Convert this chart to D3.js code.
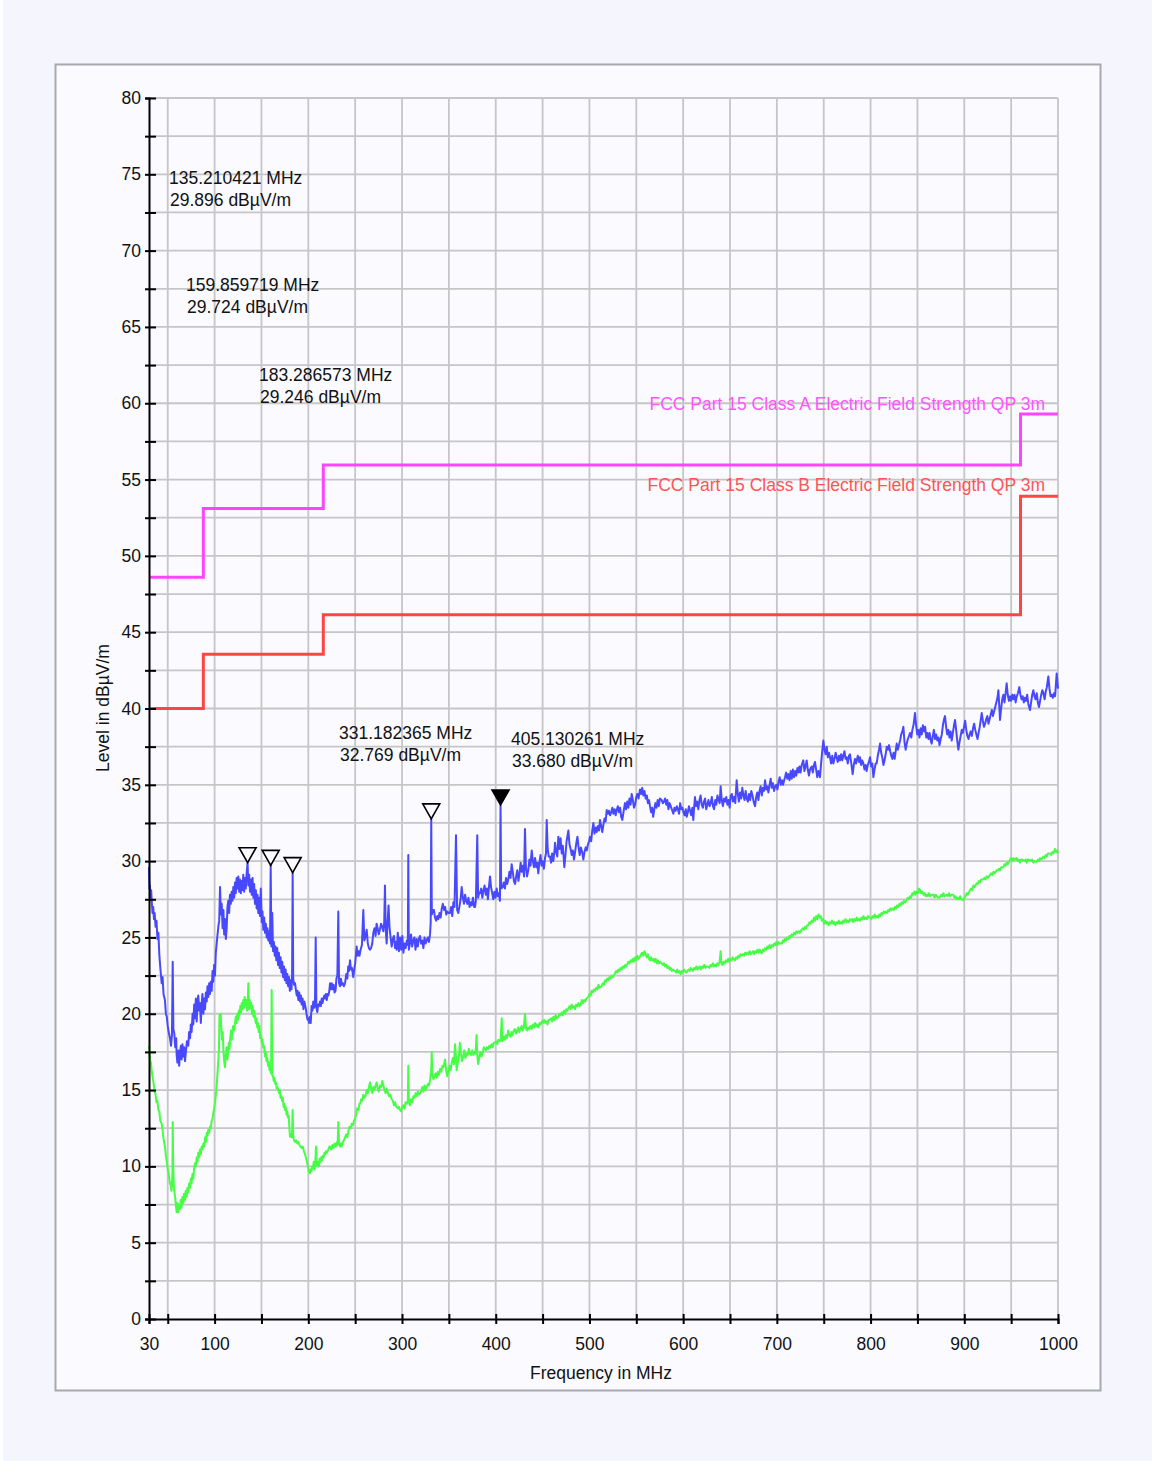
<!DOCTYPE html>
<html><head><meta charset="utf-8">
<script src="https://cdn.jsdelivr.net/npm/d3@7"></script>
<style>
html,body{margin:0;padding:0;background:#f4f5fd;}
svg{display:block;font-family:"Liberation Sans",Arial,sans-serif;}
</style></head>
<body>
<svg id="chart" width="1152" height="1461"></svg>
<script>
// ---------------- DATA ----------------
const xTicks = [30,50,100,150,200,250,300,350,400,450,500,550,600,650,700,750,800,850,900,950,1000];
const xTickLabels = [30,100,200,300,400,500,600,700,800,900,1000];
const yTicks = [0,2.5,5,7.5,10,12.5,15,17.5,20,22.5,25,27.5,30,32.5,35,37.5,40,42.5,45,47.5,50,52.5,55,57.5,60,62.5,65,67.5,70,72.5,75,77.5,80];
const yTickLabels = [0,5,10,15,20,25,30,35,40,45,50,55,60,65,70,75,80];

const classAFreq  = [30, 88, 88, 216, 216, 960, 960, 1000];
const classALevel = [48.6, 48.6, 53.1, 53.1, 55.95, 55.95, 59.3, 59.3];
const classBFreq  = [30, 88, 88, 216, 216, 960, 960, 1000];
const classBLevel = [40.0, 40.0, 43.55, 43.55, 46.15, 46.15, 53.9, 53.9];
const limitNames = ["FCC Part 15 Class A Electric Field Strength QP 3m","FCC Part 15 Class B Electric Field Strength QP 3m"];

const markerFreq  = [135.210421,159.859719,183.286573,331.182365,405.130261];
const markerLevel = [29.896,29.724,29.246,32.769,33.680];
const markerFilled= [false,false,false,false,true];

// peak trace (blue) [MHz, dBµV/m]
const peakTrace = [[30,29.6],[30.5,28.2],[31,28.4],[31.6,27.6],[32.3,28.1],[33,27.3],[33.7,26.6],[34.5,27.0],[35.3,26.2],[36,26.6],[37,25.7],[38,26.1],[39,24.9],[40,25.3],[41,23.9],[41.7,23.3],[42.5,22.7],[43.5,22.0],[44.5,22.4],[45.5,21.3],[47,20.9],[48,20.0],[49,19.8],[50,19.2],[51,18.8],[52.4,18.4],[53.5,17.9],[54.5,18.6],[55.3,23.4],[56,19.0],[57,18.7],[58,17.8],[59,18.4],[59.5,17.3],[60.3,16.8],[61.3,17.6],[62.2,16.6],[63,17.4],[64,17.9],[64.8,17.0],[65.7,18.0],[66.6,17.2],[67.5,17.8],[68.4,16.9],[69.5,17.6],[70.5,18.2],[71.9,17.9],[72.8,18.8],[73.8,18.4],[74.6,19.3],[75.5,18.8],[76.5,20.0],[77.3,19.3],[78.2,20.6],[79.1,19.7],[80,21.0],[80.9,19.5],[81.8,20.8],[82.6,21.2],[83.5,20.2],[84.4,20.7],[85.3,19.4],[86.2,20.6],[87,21.3],[88,20.0],[89,21.0],[89.8,20.3],[90.7,21.4],[91.6,20.8],[92.4,21.8],[93.3,21.1],[94.2,22.0],[95.1,21.3],[96,22.1],[96.9,21.5],[97.8,22.8],[98.6,22.1],[99.5,23.2],[100.4,22.5],[101.3,24.0],[102.2,24.6],[103,25.1],[104,25.7],[104.9,26.1],[105.8,28.3],[106.7,26.5],[107.6,27.2],[108.5,25.6],[109.4,26.8],[110.2,25.2],[111.1,26.2],[112,24.9],[112.9,25.6],[113.7,27.0],[114.6,27.4],[115.5,26.6],[116.4,27.8],[117.3,27.2],[118.2,28.0],[119,27.4],[120,28.3],[120.9,27.6],[121.8,28.6],[122.6,27.9],[123.5,28.9],[124.4,28.2],[125.3,29.0],[126.2,28.0],[127.1,28.8],[128,27.9],[128.9,28.7],[129.7,28.1],[130.6,29.1],[131.5,28.0],[132.4,28.9],[133.3,28.2],[134.2,29.2],[135.21,29.896],[136,28.4],[136.9,29.1],[137.8,28.0],[138.7,28.8],[139.6,27.8],[140.5,28.9],[141.4,27.6],[142.2,28.5],[143.1,27.2],[144,28.1],[144.9,26.9],[145.8,27.8],[146.6,26.6],[147.5,27.6],[148.4,26.4],[149.3,28.2],[150.3,26.0],[151.1,26.7],[152,25.5],[152.9,26.3],[153.8,25.3],[154.7,25.9],[155.6,25.0],[156.4,25.6],[157.3,24.8],[158.2,25.4],[159.1,24.6],[159.86,29.724],[160.6,24.4],[161.5,26.6],[162.4,24.1],[163.3,24.7],[164.2,23.8],[165,24.4],[165.9,23.5],[166.8,24.3],[167.7,23.2],[168.6,24.0],[169.5,23.0],[170.4,23.7],[171.3,22.7],[172.2,23.4],[173.1,22.4],[174,23.1],[174.9,22.2],[175.8,22.9],[176.7,22.0],[177.6,22.6],[178.5,21.8],[179.4,22.4],[180.3,21.5],[181.2,22.2],[182.1,21.6],[182.7,22.6],[183.29,29.246],[183.9,22.3],[184.8,21.9],[185.8,22.0],[186.7,21.6],[187.6,21.2],[188.5,21.5],[189.3,20.9],[190.3,21.4],[191.2,20.8],[192.1,21.2],[192.9,20.6],[193.9,21.0],[194.8,20.3],[195.7,20.8],[196.5,20.6],[197.4,20.3],[198.3,19.9],[199.2,19.6],[200,19.7],[200.8,19.4],[201.7,19.8],[202.6,19.4],[203.5,20.5],[204.4,20.2],[205.3,20.8],[206.2,20.4],[207.1,20.6],[207.9,25.0],[208.6,20.4],[209.6,20.1],[210.5,20.6],[211.4,20.5],[212.5,20.8],[213.4,20.5],[214.3,21.0],[215.2,20.7],[216.1,21.0],[217,21.2],[217.8,21.0],[218.8,21.3],[219.7,20.9],[220.6,21.3],[221.5,21.2],[222.4,21.5],[223.2,22.0],[224.1,21.6],[225,22.0],[226,21.6],[227,21.9],[228,21.4],[229,21.5],[230,22.3],[231,22.5],[232,26.7],[232.8,22.0],[233.8,21.8],[234.8,22.3],[235.8,21.9],[237,22.0],[238,21.8],[239.2,22.0],[240.5,22.6],[241.6,22.3],[242.6,23.1],[243.5,22.8],[244.5,23.5],[245.5,22.9],[246.5,23.0],[248,22.4],[249,22.9],[250,23.3],[251.6,24.4],[252.6,23.8],[253.6,24.1],[254.6,23.8],[255.8,24.2],[257.2,24.5],[258.7,26.8],[259.8,24.8],[260.8,25.0],[262.3,25.5],[263.5,24.6],[264.7,24.3],[265.8,24.2],[267,24.3],[268.2,24.6],[269.4,25.3],[270.6,25.6],[271.8,25.1],[272.9,25.9],[274,25.6],[275.2,25.2],[276.4,25.5],[277.6,25.9],[278.8,25.7],[280,25.4],[281,26.0],[281.8,28.4],[282.6,25.5],[283.6,24.6],[284.6,26.0],[285.6,27.1],[286.6,25.7],[287.8,25.0],[289,24.4],[290.2,24.9],[291.4,25.1],[292.6,24.3],[293.6,24.7],[294.3,24.2],[295.5,25.3],[296.7,24.1],[297.9,25.0],[299.1,24.2],[300.3,25.1],[301.5,24.0],[302.7,24.6],[303.9,24.3],[305.1,24.8],[306.2,24.5],[306.7,30.4],[307.3,24.2],[308.4,24.6],[309.6,25.2],[310.8,24.4],[312,24.8],[313.2,25.0],[314.4,24.2],[315.6,24.9],[316.8,24.4],[318,24.9],[319.2,25.1],[320.4,24.6],[321.6,24.8],[322.8,24.3],[324,25.0],[325.2,24.6],[326.3,24.8],[327.5,25.0],[328.7,24.7],[329.9,25.2],[330.6,26.0],[331.18,32.769],[331.8,26.5],[332.9,26.8],[334,26.8],[335.2,26.3],[336.4,26.1],[337.6,26.4],[338.8,26.2],[340,26.6],[341.2,26.3],[342.4,26.9],[343.6,27.2],[344.8,26.8],[346,27.0],[347.2,26.5],[348.4,26.7],[349.6,26.6],[351.2,26.6],[352.4,27.0],[353.6,26.4],[354.8,27.3],[356,27.0],[357.6,31.7],[358.8,26.8],[360,26.6],[361.2,27.0],[362.5,27.5],[363.7,28.3],[364.9,27.6],[366.1,27.2],[367.3,27.8],[368.5,27.4],[369.7,27.2],[370.9,27.6],[372.1,27.0],[373.3,27.3],[374.5,27.1],[375.7,27.6],[377,27.0],[377.9,27.0],[378.8,27.4],[380.3,31.7],[381.2,27.6],[382.2,27.9],[383.2,27.9],[384.5,28.2],[385.7,27.6],[386.9,28.1],[388.1,28.4],[389.3,27.8],[390.5,28.2],[391.7,27.5],[392.9,28.4],[393.9,29.0],[395,28.3],[396.2,27.9],[397.4,27.5],[398.6,28.0],[399.8,27.6],[401,28.2],[402.2,27.7],[403.4,27.9],[404.5,27.4],[405.13,33.68],[405.8,28.2],[407.4,28.3],[408.6,28.6],[409.8,28.2],[411,28.9],[412.2,28.5],[413.4,28.8],[414.6,29.3],[415.8,28.9],[417,29.8],[418.2,29.3],[419.4,28.7],[420.6,28.5],[421.8,29.0],[423,29.4],[424.2,28.7],[425.4,29.2],[426.6,29.9],[427.8,29.3],[429,29.7],[430.2,29.0],[431.2,32.1],[432.2,29.6],[433.4,29.0],[434.7,29.4],[435.9,30.1],[437.1,29.7],[438.4,30.7],[439.6,30.0],[440.8,29.6],[442,30.2],[443.2,29.6],[444.4,29.9],[445.4,29.2],[446.6,29.9],[447.8,30.4],[449,29.7],[450.2,30.0],[451.4,29.5],[452.6,30.2],[453.6,30.5],[454.4,32.7],[455.4,30.8],[456.6,30.3],[457.9,30.3],[459,29.9],[460.2,30.5],[461.4,30.0],[462.6,30.6],[463.3,31.2],[464.5,30.6],[465.7,30.3],[466.8,31.6],[468,30.8],[469.2,31.5],[470.4,30.5],[471.6,31.0],[473.2,29.6],[474.4,30.4],[475.6,31.3],[477.5,32.0],[478.7,31.1],[479.9,30.8],[481.1,30.4],[482.3,30.7],[483.5,30.1],[484.7,30.6],[486,31.2],[487.2,31.6],[488.4,30.9],[489.6,30.4],[490.8,30.9],[492.2,30.6],[493.5,30.1],[494.7,30.6],[496,30.9],[497.2,30.7],[498.4,31.1],[499.6,31.3],[500.6,31.6],[501.8,31.3],[503,32.0],[504.2,32.5],[505.4,31.8],[506.6,32.2],[507.8,31.9],[509,32.3],[510.2,32.0],[511.3,32.7],[512.5,32.3],[513.7,31.9],[514.9,32.4],[516.1,32.8],[517.3,32.6],[518.4,33.35],[519.6,33.1],[520.8,33.3],[522,33.0],[523.2,33.2],[524.4,33.5],[525.6,33.1],[526.8,33.4],[528,33.0],[529.1,33.35],[530.3,33.6],[531.5,33.2],[532.7,33.5],[533.9,32.9],[535.1,32.7],[536.3,33.2],[537.9,33.8],[539.1,33.4],[540.3,33.9],[541.5,33.5],[542.7,34.1],[543.9,33.7],[545.1,34.4],[546.3,34.0],[547.5,33.5],[548.7,33.7],[550,34.2],[551.2,34.4],[552.4,34.1],[553.9,34.7],[555.1,34.4],[556.3,34.8],[557.5,34.3],[558.7,34.6],[560,34.1],[561.2,34.3],[562.4,33.8],[563.6,34.0],[564.6,33.6],[565.8,33.2],[566.9,33.5],[568,32.9],[569.2,33.4],[570.4,33.8],[571.6,33.5],[572.8,34.0],[574,33.6],[575.2,34.1],[577.1,34.0],[578.3,33.8],[579.5,33.9],[580.7,34.1],[581.9,33.7],[583.1,34.0],[584.3,33.4],[585.5,33.8],[586.7,33.6],[587.9,33.4],[589.5,33.1],[590.7,33.5],[592,33.3],[593.2,33.6],[594.4,33.4],[595.6,33.1],[596.8,33.8],[598,33.4],[599.2,33.5],[600.4,33.2],[601.6,33.0],[602.8,33.4],[603.8,32.9],[605,33.2],[606.2,33.6],[607.4,33.3],[608.6,33.0],[609.8,33.5],[610.8,32.7],[611.7,33.5],[612.6,34.2],[613.8,33.6],[615,33.9],[616.2,33.4],[617.4,34.0],[618.6,34.3],[619.8,33.7],[621,33.5],[622.2,33.9],[623.4,34.1],[624.6,33.4],[625.8,33.7],[627,34.0],[628.2,33.6],[629.4,33.8],[630.6,34.2],[631.8,33.6],[633,33.4],[634.2,34.0],[635.4,33.7],[636.6,34.3],[637.8,34.0],[639,33.8],[640,34.9],[641.2,34.0],[642.4,33.6],[643.6,34.1],[644.8,33.9],[646,34.2],[647.2,33.7],[648.4,34.0],[649.6,33.5],[650.8,34.3],[652,34.4],[653.2,33.9],[654.4,34.2],[655.6,33.8],[657.1,35.3],[658.3,34.4],[659.5,33.9],[660.7,34.5],[661.9,34.1],[663.1,34.8],[664.3,34.3],[665.5,34.0],[666.7,34.6],[667.9,34.1],[669.1,33.9],[670.3,34.4],[671.5,34.0],[672.7,34.6],[674,34.3],[675.2,33.9],[676.7,33.6],[677.9,34.2],[679.1,34.5],[680.3,34.0],[681.5,34.6],[682.7,34.9],[683.9,34.3],[685.1,34.8],[686.3,34.6],[687.4,35.3],[688.6,34.7],[689.8,34.9],[691,34.5],[692.2,35.0],[693.4,35.4],[694.6,34.8],[695.8,35.1],[697,34.6],[698.2,34.9],[699.4,35.0],[700.6,34.7],[701.8,35.2],[703,35.5],[704.2,35.0],[705.4,35.3],[706.6,35.0],[707.8,35.3],[708.7,35.5],[709.9,35.8],[711.1,35.4],[712.3,35.7],[713.5,35.3],[714.7,35.9],[715.9,35.4],[717.1,36.0],[718.3,35.5],[719.5,35.9],[720.7,35.6],[721.9,36.1],[723.1,35.8],[724.1,36.2],[725.3,35.8],[726.5,36.3],[728.2,36.6],[729.4,35.9],[730.6,36.2],[731.8,36.6],[733,36.0],[734.2,35.6],[735.4,36.0],[737.2,36.2],[738.4,35.8],[739.6,36.3],[740.7,36.5],[741.9,36.0],[743.1,35.5],[744.3,35.9],[746,35.5],[747.2,36.4],[748.4,37.2],[749.6,37.9],[750.8,37.3],[752,37.0],[753.2,37.5],[754.4,36.8],[755.6,37.1],[756.7,36.8],[757.9,36.4],[759.1,36.9],[760.3,36.4],[761.5,36.7],[762.7,37.1],[763.8,36.8],[765,36.5],[766.2,36.9],[767.4,36.6],[768.6,37.0],[769.8,36.6],[770.9,36.9],[772.1,37.2],[773.3,36.7],[774.5,36.8],[775.7,36.4],[776.9,36.9],[778,37.0],[779.2,36.5],[780.9,35.7],[782.1,36.3],[783.3,36.7],[784.5,36.4],[785.2,36.6],[786.4,36.9],[787.6,36.5],[788.7,36.8],[789.9,36.3],[791.1,36.6],[792.3,36.4],[793.5,36.0],[794.7,36.3],[795.8,35.9],[797,36.3],[798.2,36.5],[799.4,36.8],[800.6,36.2],[801.8,36.4],[803,35.5],[804.2,36.0],[805.4,36.4],[806.5,36.4],[807.7,36.9],[809,37.3],[810.1,37.7],[811.3,37.1],[812.5,36.8],[813.7,36.3],[814.9,36.6],[816.1,37.0],[817.3,37.5],[818.5,37.3],[819.7,37.6],[820.9,37.2],[822.1,36.9],[823.3,36.7],[824.5,37.1],[825.7,36.7],[827.9,37.7],[829.1,37.3],[830.3,37.6],[831.5,37.9],[832.7,38.3],[833.9,38.5],[835,38.8],[836.2,37.8],[837.4,37.3],[838.6,37.7],[839.8,38.0],[841,38.2],[842.2,38.4],[843.4,38.1],[844.6,38.6],[845.8,38.9],[847.4,39.7],[848.6,38.9],[849.8,38.3],[851,38.6],[852.2,38.1],[853.4,38.7],[854.6,38.3],[855.8,38.9],[857,38.5],[858.2,38.8],[859.4,38.1],[860.6,38.4],[861.8,38.0],[863,38.4],[864.2,37.9],[865.2,37.7],[866.4,38.2],[867.6,38.6],[868.8,38.0],[870,38.3],[871.2,37.9],[872.4,38.1],[873.6,37.6],[874.8,38.0],[876,38.3],[877.2,38.9],[878.4,39.3],[879.4,39.5],[880.6,38.8],[881.8,38.3],[883,38.6],[884.2,38.1],[885.4,38.5],[886.6,37.9],[887.8,38.4],[889,38.9],[890.1,39.25],[891.3,38.6],[892.5,37.9],[893.7,37.3],[894.9,37.8],[896.1,38.2],[897.3,38.6],[898.5,38.4],[899.7,38.8],[900.9,39.2],[902.1,38.6],[903.3,38.2],[904.5,38.0],[905.7,38.3],[906.9,38.5],[908.1,38.2],[909.3,38.7],[910.5,39.0],[911.7,38.6],[912.9,38.3],[914.1,38.0],[915.3,38.4],[916.5,38.8],[918.6,39.7],[919.8,39.2],[921,38.8],[922.2,39.0],[923.4,39.3],[924.6,39.5],[925.8,39.0],[927,39.3],[928.2,39.6],[929.4,39.9],[930.6,39.5],[931.8,39.8],[933,40.1],[934.2,40.4],[935.4,40.7],[936.4,41.2],[937.3,40.2],[938.1,39.25],[939.3,40.0],[940.5,40.6],[941.7,40.9],[942.9,40.4],[944.1,41.0],[945.2,41.65],[946.4,40.9],[947.6,40.5],[948.8,40.8],[950,40.5],[951.2,40.9],[952.4,40.6],[953.6,40.9],[954.8,40.4],[956,40.8],[957.2,41.0],[958.7,41.4],[959.9,40.9],[961.1,40.6],[962.3,40.8],[963.5,40.4],[964.7,40.7],[965.9,40.5],[967.1,40.9],[968.3,40.3],[970.1,39.9],[971.3,40.4],[972.5,40.9],[973.7,41.2],[974.9,40.8],[976.1,40.6],[977.3,41.0],[978.5,40.4],[979.7,40.1],[980.9,40.5],[982.1,40.9],[983.3,41.2],[984.5,41.0],[985.7,40.6],[986.9,41.1],[988.1,41.4],[989.7,42.1],[990.9,41.3],[992.1,40.8],[993.3,40.9],[994.5,40.7],[995.7,41.0],[996.9,40.8],[998.6,42.3],[1000,41.3]];

// average trace (green) [MHz, dBµV/m]
const avgTrace = [[30,17.9],[30.5,17.5],[31,17.0],[32,16.8],[33,16.2],[34,15.8],[35,15.4],[36,14.9],[37,14.7],[38,14.2],[39,14.3],[40,13.7],[41,13.6],[42,13.0],[43.5,12.8],[44.5,12.4],[45.5,11.8],[47,11.3],[48,10.7],[49,10.3],[50,9.8],[51,9.5],[52,9.0],[53,8.8],[54,8.4],[55,9.5],[55.3,12.9],[55.8,10.2],[56.5,8.6],[57,8.4],[58,7.9],[58.8,7.4],[59.5,7.0],[60.3,7.6],[61.2,7.0],[62,7.5],[63,7.2],[63.8,7.8],[64.7,7.3],[65.6,8.0],[66.6,7.6],[67.4,8.2],[68.3,7.8],[69.2,8.4],[70.2,8.0],[71,8.6],[72,8.3],[72.9,8.9],[73.8,8.6],[74.7,9.2],[75.5,8.9],[76.4,9.5],[77.3,9.2],[78.2,9.9],[79.1,10.2],[80,10.0],[80.9,10.6],[81.8,10.3],[82.6,10.9],[83.5,10.6],[84.4,11.1],[85.3,10.8],[86.2,11.3],[87,11.1],[88,11.5],[89,11.3],[89.8,11.9],[90.7,11.6],[91.6,12.2],[92.4,12.0],[93.3,12.4],[94.2,12.2],[95.1,12.6],[96,12.5],[96.9,13.0],[97.8,13.1],[98.6,13.5],[99.5,13.8],[100.4,14.2],[101.2,14.6],[102.1,15.2],[103.3,16.3],[104,17.0],[104.7,17.8],[105.2,19.9],[105.8,19.2],[106.5,20.0],[107.2,19.0],[107.8,18.3],[108.6,18.8],[109.4,17.6],[110.2,16.9],[111.1,16.5],[111.9,17.3],[112.7,17.8],[113.5,17.0],[114.3,17.4],[115.1,18.1],[115.9,17.7],[116.7,18.4],[117.5,18.9],[118.3,18.3],[119.1,18.9],[119.9,19.2],[120.7,18.9],[121.8,19.4],[122.6,19.8],[123.4,19.4],[124.2,20.0],[125,19.6],[125.8,20.2],[126.6,19.9],[127.4,20.5],[128.2,20.1],[129,20.7],[129.8,20.3],[130.6,20.9],[131.4,20.4],[132.2,21.1],[133,20.6],[133.8,20.9],[134.6,20.2],[135.4,20.8],[136,22.0],[136.6,20.3],[137.4,20.9],[138.2,20.4],[139,20.7],[139.8,20.0],[140.6,20.5],[141.4,19.8],[142.2,20.2],[143.1,19.8],[143.9,19.4],[144.7,19.7],[145.5,19.1],[146.3,19.4],[147.1,18.8],[147.9,19.2],[148.7,18.4],[149.5,18.6],[150.3,18.1],[151.1,18.3],[151.9,17.8],[152.7,17.9],[153.8,17.2],[154.6,17.5],[155.4,16.9],[156.2,17.1],[157,16.6],[157.8,16.8],[158.6,16.3],[159.4,16.5],[160.2,16.1],[160.9,21.55],[161.5,16.0],[162.3,15.9],[163.1,15.6],[163.9,15.8],[164.7,15.4],[165.5,15.5],[166.3,15.1],[167.1,15.2],[168,15.0],[168.8,14.8],[169.6,15.0],[170.4,14.5],[171.2,14.6],[172,14.3],[172.8,14.5],[173.6,13.9],[174.4,14.1],[175.1,13.7],[175.9,13.9],[176.7,13.4],[177.5,13.6],[178.3,13.2],[179.1,13.3],[179.9,12.4],[180.5,11.95],[181.3,12.1],[182.1,11.9],[182.7,12.3],[183.3,13.7],[183.9,12.0],[184.6,11.7],[185.8,11.6],[187,11.7],[188.2,11.5],[189.3,11.6],[190.5,11.4],[191.7,11.3],[192.9,11.2],[194.1,11.3],[195.3,11.0],[196.5,10.8],[197.4,10.6],[198.2,10.4],[199.2,10.1],[200.2,9.8],[201,9.6],[201.8,9.55],[202.6,9.8],[203.4,9.7],[204.2,10.0],[205,9.9],[205.8,10.3],[206.6,9.8],[207.4,10.1],[208.2,11.3],[208.8,10.2],[209.6,10.0],[210.5,10.3],[211.3,10.0],[212.1,10.5],[213,10.3],[213.8,10.6],[214.6,10.4],[215.5,10.7],[216.4,10.6],[217.3,10.9],[218.1,10.8],[219,11.0],[219.9,10.9],[221.3,11.1],[222.5,11.3],[223.2,11.3],[224.5,11.1],[225.7,11.4],[226.9,11.2],[228.1,11.5],[229.3,11.3],[230.5,11.6],[231.3,11.4],[232,12.9],[232.7,11.6],[233.8,11.3],[235,11.5],[235.6,11.3],[236.8,11.6],[238,11.7],[239.2,11.9],[240.4,12.1],[241.6,11.9],[242.8,12.3],[244,12.6],[245.2,12.5],[246.4,12.8],[247.6,12.7],[248.8,13.0],[249.8,13.1],[251,13.4],[252.2,13.8],[253.4,13.7],[254.6,14.1],[255.2,14.1],[256.4,14.4],[257.6,14.3],[258.7,14.7],[259.9,14.5],[261.1,14.6],[262.3,15.0],[263.5,14.8],[264.7,15.2],[265.8,15.5],[267,15.1],[268.2,14.8],[269.4,15.2],[270.6,15.0],[271.8,15.3],[272.9,15.5],[274.1,15.1],[275.3,14.9],[276.5,15.3],[277.7,15.2],[278.9,15.6],[280.1,15.3],[281.3,15.0],[282.5,14.8],[283.7,15.1],[284.9,14.8],[286.1,14.6],[287.3,14.7],[289,14.4],[290.2,14.3],[291.4,14.0],[292.6,14.2],[293.8,13.9],[294.3,13.9],[295.5,13.8],[296.7,13.9],[297.8,13.7],[299,13.6],[300.2,13.9],[301.4,14.0],[302.6,13.8],[303.8,14.2],[305,14.1],[306.2,14.3],[306.7,16.6],[307.3,14.2],[308.5,14.0],[309.7,14.4],[310.9,14.2],[312.1,14.6],[313.3,14.5],[314.5,14.8],[315.7,14.6],[316.9,14.9],[318.1,14.7],[319.2,14.8],[320.4,14.9],[321.6,15.2],[322.8,14.9],[324,15.3],[325.2,15.0],[326.4,15.2],[327.6,15.4],[328.8,15.3],[330,15.7],[331.2,16.4],[331.7,17.5],[332.3,16.0],[333.5,15.7],[334.7,15.9],[335.9,16.1],[337.1,15.8],[338.3,16.2],[339.5,16.0],[340.7,16.4],[341.9,16.2],[343.1,16.6],[344.3,16.5],[345.9,17.0],[347.1,16.3],[348.3,15.9],[349.5,16.2],[350.7,16.6],[351.9,16.3],[353.1,16.8],[354.3,17.1],[355.5,16.7],[356.5,18.0],[357.7,17.1],[358.3,16.3],[359.5,16.8],[360.7,17.2],[361.7,18.1],[362.9,17.4],[364.1,16.9],[365.3,17.2],[366.5,17.6],[367.7,17.1],[368.9,17.4],[370.1,17.3],[371.3,17.7],[372.5,17.4],[373.7,17.3],[374.9,17.6],[376.1,17.3],[377.3,17.5],[378.5,17.4],[379.5,18.6],[380.4,17.2],[381.3,16.7],[382.5,17.2],[383.7,17.5],[384.9,17.2],[386.1,17.5],[387.3,17.8],[388.3,17.7],[389.5,17.6],[390.7,17.8],[391.9,17.7],[393.1,17.9],[394.3,17.8],[395.5,18.0],[396.7,17.8],[397.9,18.1],[399.2,18.1],[400.4,18.2],[401.6,18.0],[402.8,18.3],[404,18.2],[405.2,18.3],[406.4,19.7],[407.2,18.2],[408.4,18.5],[409.6,18.3],[410.8,18.6],[412,18.4],[413.2,18.9],[414.4,18.6],[415.6,18.5],[416.8,18.8],[418,18.6],[419.2,18.9],[420.4,19.0],[421.6,18.7],[422.8,18.9],[424,19.1],[425.2,18.8],[426.4,19.0],[427.6,19.2],[428.8,18.9],[430,19.1],[431.2,20.0],[432.4,19.0],[433.6,18.9],[434.8,19.1],[436,19.0],[437.2,19.2],[438.4,19.0],[439.6,19.3],[440.8,19.1],[442,19.4],[443.2,19.2],[444.4,19.3],[445.6,19.1],[446.8,19.4],[448,19.3],[449.2,19.5],[450.4,19.4],[451.6,19.6],[452.8,19.4],[454,19.5],[455.2,19.3],[456.4,19.6],[457.9,19.6],[459.1,19.7],[460.3,19.5],[461.5,19.8],[462.7,19.6],[463.9,19.9],[465.1,19.7],[466.8,19.8],[468,20.0],[469.2,19.9],[470.4,20.1],[471.6,19.9],[472.8,20.2],[474,20.0],[475.2,20.3],[476.4,20.2],[477.5,20.35],[478.7,20.5],[479.9,20.3],[481.1,20.6],[482.3,20.4],[483.5,20.5],[484.7,20.3],[485.9,20.6],[487.1,20.5],[488.3,20.7],[489.5,20.5],[490.7,20.6],[491.9,20.9],[493.1,20.7],[494.3,20.9],[495.5,20.8],[496.7,21.0],[498.8,21.1],[500,21.3],[501.2,21.2],[502.4,21.5],[503.6,21.4],[504.8,21.6],[506,21.5],[507.2,21.7],[508.4,21.6],[509.6,21.9],[510.8,21.7],[513,21.8],[514.2,22.0],[515.4,21.9],[516.6,22.2],[517.8,22.1],[519,22.3],[520.2,22.2],[521.4,22.4],[522.6,22.3],[523.8,22.5],[525,22.4],[527.3,22.65],[528.5,22.8],[529.7,22.7],[530.9,22.9],[532.1,22.8],[533.3,23.0],[534.5,22.9],[535.7,23.1],[536.9,23.0],[538.1,23.2],[539.3,23.1],[541.5,23.4],[542.7,23.3],[543.9,23.5],[545.1,23.4],[546.3,23.6],[547.5,23.4],[548.7,23.7],[549.9,23.5],[551.1,23.8],[552.3,23.6],[553.9,23.75],[555.1,23.9],[556.3,24.0],[557.5,23.8],[558.7,24.1],[559.9,23.9],[561.1,23.7],[562.3,23.9],[563.5,23.6],[564.6,23.5],[565.8,23.7],[567,23.5],[568.2,23.6],[569.4,23.4],[570.6,23.6],[571.8,23.3],[573,23.5],[574.2,23.3],[575.4,23.4],[577.1,23.3],[578.3,23.2],[579.5,23.3],[580.7,23.1],[581.9,23.2],[583.1,23.0],[584.3,23.1],[585.5,22.9],[586.7,23.0],[587.9,22.8],[589.1,22.9],[591.3,22.8],[592.5,22.7],[593.7,22.9],[594.9,22.7],[596.1,22.8],[597.3,22.6],[598.5,22.8],[599.7,22.7],[600.9,22.9],[602.1,22.8],[603.3,22.7],[604.5,22.8],[605.7,22.9],[606.9,22.8],[608.1,23.0],[609.3,22.9],[610.5,22.8],[611.7,23.0],[612.9,22.9],[614.1,23.1],[615.3,22.9],[616.5,23.0],[617.7,23.1],[618.9,22.9],[620.1,23.1],[621.3,23.0],[622.5,23.2],[623.7,23.0],[624.9,23.1],[626.9,23.1],[628.1,23.0],[629.3,23.2],[630.5,23.1],[631.7,23.3],[632.9,23.1],[634.1,23.2],[635.3,23.1],[636.5,23.3],[637.7,23.2],[638.9,23.4],[640,24.1],[640.8,23.3],[642,23.2],[643.2,23.4],[644.4,23.3],[645.6,23.5],[646.8,23.4],[648,23.6],[649.2,23.4],[650.4,23.6],[651.6,23.5],[652.8,23.7],[655.3,23.5],[656.5,23.7],[657.7,23.6],[658.9,23.8],[660.1,23.7],[661.3,23.9],[662.5,23.8],[663.7,23.9],[664.9,23.8],[666.1,24.0],[667.3,23.9],[668.5,24.0],[669.7,23.9],[670.9,24.1],[672.1,23.9],[673.3,24.0],[674.5,24.1],[675.7,23.9],[676.9,24.1],[678.1,24.0],[679.3,24.2],[680.5,24.0],[681.7,24.2],[683.8,23.95],[685,24.2],[686.2,24.1],[687.4,24.3],[688.6,24.2],[689.8,24.4],[691,24.3],[692.2,24.5],[693.4,24.3],[694.6,24.5],[695.8,24.4],[697,24.6],[698.2,24.5],[699.4,24.7],[700.6,24.5],[701.8,24.7],[703,24.6],[705.1,24.6],[706.3,24.8],[707.5,24.7],[708.7,24.9],[709.9,24.8],[711.1,25.0],[712.3,24.9],[713.5,25.1],[714.7,25.0],[715.9,25.2],[717.1,25.1],[718.3,25.3],[719.5,25.2],[720.7,25.4],[721.9,25.3],[723.1,25.4],[724.3,25.3],[726.4,25.5],[727.6,25.6],[728.8,25.5],[730,25.7],[731.2,25.6],[732.4,25.8],[733.6,25.8],[734.8,26.0],[736,25.9],[737.2,26.1],[738.4,26.0],[739.6,26.3],[740.8,26.1],[742,26.4],[743.2,26.2],[744.4,26.5],[745.6,26.3],[746.8,26.4],[748,26.1],[749.2,26.2],[750.4,25.9],[751.6,26.1],[752.8,25.9],[754,26.0],[755.2,25.8],[756.4,26.0],[757.6,25.9],[758.8,26.1],[760,25.9],[761.2,26.0],[762.4,25.8],[763.6,26.0],[764.8,25.9],[766,26.1],[767.2,25.9],[768.4,26.0],[769.6,25.9],[770.8,26.1],[772,26.0],[773.2,26.2],[774.4,26.0],[775.6,26.1],[776.8,26.0],[778,26.2],[779.2,26.1],[780.4,26.2],[781.6,26.0],[782.8,26.2],[784,26.1],[785.2,26.3],[786.4,26.1],[787.6,26.2],[788.8,26.1],[790,26.3],[791.2,26.2],[792.4,26.4],[793.6,26.2],[794.8,26.3],[796,26.2],[797.2,26.4],[798.4,26.3],[799.6,26.3],[800.8,26.2],[802,26.4],[803.2,26.3],[804.4,26.5],[805.6,26.3],[806.8,26.4],[808,26.3],[809.2,26.5],[810.4,26.4],[811.6,26.6],[812.8,26.5],[814,26.7],[815.2,26.6],[816.4,26.7],[817.6,26.6],[818.8,26.8],[820,26.7],[821.2,26.9],[822.4,26.8],[823.6,26.9],[824.8,26.8],[826,27.0],[827.2,26.9],[828.4,27.1],[829.6,27.0],[830.8,27.2],[832,27.1],[833.2,27.3],[834.4,27.2],[835.6,27.4],[836.8,27.3],[838.5,27.45],[839.7,27.6],[840.9,27.5],[842.1,27.7],[843.3,27.6],[844.5,27.9],[845.6,27.8],[846.8,28.0],[848,27.8],[849.2,28.0],[850.4,27.9],[851.6,28.2],[852.8,28.1],[854,27.9],[855.2,28.0],[856.4,27.8],[857.6,27.9],[858.8,27.7],[859.9,27.8],[861.1,27.7],[862.3,27.9],[863.5,27.7],[864.7,27.8],[867,27.8],[868.2,27.6],[869.4,27.8],[870.6,27.7],[871.8,27.6],[874.1,27.65],[875.3,27.8],[876.5,27.7],[877.7,27.9],[878.9,27.7],[881.2,27.8],[882.4,27.7],[883.6,27.9],[884.8,27.7],[886,27.8],[888.3,27.8],[889.5,27.6],[890.7,27.7],[891.9,27.5],[893.1,27.6],[894.3,27.5],[895.5,27.7],[896.7,27.5],[899,27.45],[900.2,27.6],[901.4,27.7],[902.6,27.9],[903.8,27.8],[906.1,28.1],[907.3,28.2],[908.5,28.1],[909.7,28.4],[910.9,28.3],[913.2,28.55],[914.4,28.5],[915.6,28.7],[916.8,28.6],[918,28.8],[920.3,28.8],[921.5,28.9],[922.7,28.8],[923.9,29.0],[925.1,28.9],[927.5,29.1],[928.7,29.2],[929.9,29.1],[931.1,29.3],[932.3,29.2],[934.5,29.4],[935.7,29.4],[936.9,29.5],[938.1,29.4],[939.3,29.6],[941.7,29.6],[942.9,29.8],[944.1,29.7],[945.3,29.9],[946.5,29.8],[948.8,30.1],[950,30.2],[951.2,30.0],[952.4,30.2],[953.6,30.1],[955.9,30.2],[957.1,30.0],[958.3,30.1],[959.5,29.9],[960.7,30.1],[963,30.07],[964.2,30.0],[965.4,30.1],[966.6,29.9],[967.8,30.1],[970.1,30.07],[971.3,30.0],[972.5,30.1],[973.7,29.9],[974.9,30.0],[977.3,29.96],[978.5,30.1],[979.7,30.0],[980.9,30.2],[982.1,30.1],[984.4,30.3],[985.6,30.2],[986.8,30.4],[988,30.3],[989.2,30.5],[991.5,30.5],[992.7,30.4],[993.9,30.6],[995.1,30.5],[996.8,30.8],[998,30.6],[999,30.7],[1000,30.5]];

// ---------------- LAYOUT ----------------
const W = 1152, H = 1461;
const plot = {left:149, right:1058, top:98, bottom:1319};
const markerLabelPos = [[169,184],[186,291],[259,381],[339,739],[511,745]];
const limitLabelPos = [[1045,410],[1045,491]];
const C = {page:"#f4f5fd", panel:"#fafaff", frame:"#a8a8b0", grid:"#c6c6c6",
           peak:"#4848ff", avg:"#44ff44", classA:"#ff44ff", classB:"#ff4444",
           classAText:"#ff55ff", classBText:"#ff5555"};
const FONT = "'Liberation Sans', Arial, sans-serif";
const FS = 17.5;

const svg = d3.select("#chart");
svg.append("rect").attr("x",0).attr("y",0).attr("width",W).attr("height",H).attr("fill",C.page);
svg.append("rect").attr("x",0).attr("y",0).attr("width",3).attr("height",H).attr("fill","#ffffff");
svg.append("rect").attr("x",55.5).attr("y",64.5).attr("width",1045).attr("height",1326)
   .attr("fill",C.panel).attr("stroke",C.frame).attr("stroke-width",2);

const x = d3.scaleLinear().domain([30,1000]).range([plot.left, plot.right]);
const y = d3.scaleLinear().domain([0,80]).range([plot.bottom, plot.top]);

// grid
const grid = svg.append("g").attr("stroke",C.grid).attr("stroke-width",1.8);
grid.selectAll("line.h").data(yTicks.filter(d=>d>0)).join("line")
  .attr("x1",plot.left).attr("x2",plot.right).attr("y1",d=>y(d)).attr("y2",d=>y(d));
grid.selectAll("line.v").data(xTicks.filter(d=>d>30)).join("line")
  .attr("y1",plot.top).attr("y2",plot.bottom).attr("x1",d=>x(d)).attr("x2",d=>x(d));

// limit lines
const limLine = d3.line().x(d=>x(d[0])).y(d=>y(d[1]));
const classA = classAFreq.map((f,i)=>[f,classALevel[i]]);
const classB = classBFreq.map((f,i)=>[f,classBLevel[i]]);
svg.append("path").attr("d",limLine(classB)).attr("fill","none").attr("stroke",C.classB).attr("stroke-width",3);
svg.append("path").attr("d",limLine(classA)).attr("fill","none").attr("stroke",C.classA).attr("stroke-width",3);

// traces
const tr = d3.line().x(d=>x(d[0])).y(d=>y(d[1]));
svg.append("path").attr("d",tr(avgTrace)).attr("fill","none").attr("stroke",C.avg)
   .attr("stroke-width",2).attr("stroke-linejoin","round");
svg.append("path").attr("d",tr(peakTrace)).attr("fill","none").attr("stroke",C.peak)
   .attr("stroke-width",2).attr("stroke-linejoin","round");

// limit labels
svg.selectAll("text.lim").data(limitNames).join("text")
  .attr("x",(d,i)=>limitLabelPos[i][0]).attr("y",(d,i)=>limitLabelPos[i][1])
  .attr("text-anchor","end").attr("font-family",FONT).attr("font-size",FS)
  .attr("fill",(d,i)=> i===0 ? C.classAText : C.classBText).text(d=>d);

// markers
const mk = svg.append("g");
markerFreq.forEach((f,i)=>{
  const px = x(f), py = y(markerLevel[i]);
  mk.append("path").attr("d",`M${px},${py} L${px-8.5},${py-15} L${px+8.5},${py-15} Z`)
    .attr("fill", markerFilled[i] ? "#000" : C.panel).attr("stroke","#000").attr("stroke-width",1.6)
    .attr("stroke-linejoin","miter");
  const [lx,ly] = markerLabelPos[i];
  mk.append("text").attr("x",lx).attr("y",ly).attr("font-family",FONT).attr("font-size",FS)
    .attr("fill","#111").text(f.toFixed(6)+" MHz");
  mk.append("text").attr("x",lx+1).attr("y",ly+22).attr("font-family",FONT).attr("font-size",FS)
    .attr("fill","#111").text(markerLevel[i].toFixed(3)+" dBµV/m");
});

// axes
const yAxis = d3.axisLeft(y).tickValues(yTicks).tickSize(4).tickPadding(4)
  .tickFormat(d => yTickLabels.includes(d) ? String(d) : "");
const gy = svg.append("g").attr("transform",`translate(${plot.left},0)`).call(yAxis);
gy.select(".domain").attr("stroke","#000").attr("stroke-width",2);
gy.selectAll(".tick line").attr("stroke","#000").attr("stroke-width",2).attr("x2",-4).attr("x1",7);
gy.selectAll("text").attr("font-family",FONT).attr("font-size",FS).attr("fill","#111");

const xAxis = d3.axisBottom(x).tickValues(xTicks).tickSize(5).tickPadding(14)
  .tickFormat(d => xTickLabels.includes(d) ? String(d) : "");
const gx = svg.append("g").attr("transform",`translate(0,${plot.bottom})`).call(xAxis);
gx.select(".domain").attr("stroke","#000").attr("stroke-width",2);
gx.selectAll(".tick line").attr("stroke","#000").attr("stroke-width",2).attr("y1",-5).attr("y2",5);
gx.selectAll("text").attr("font-family",FONT).attr("font-size",FS).attr("fill","#111");

// axis titles
svg.append("text").attr("x",601).attr("y",1379).attr("text-anchor","middle")
  .attr("font-family",FONT).attr("font-size",FS).attr("fill","#111").text("Frequency in MHz");
svg.append("text").attr("transform","translate(108.5,708) rotate(-90)").attr("text-anchor","middle")
  .attr("font-family",FONT).attr("font-size",FS).attr("fill","#111").text("Level in dBµV/m");
</script>
</body></html>
